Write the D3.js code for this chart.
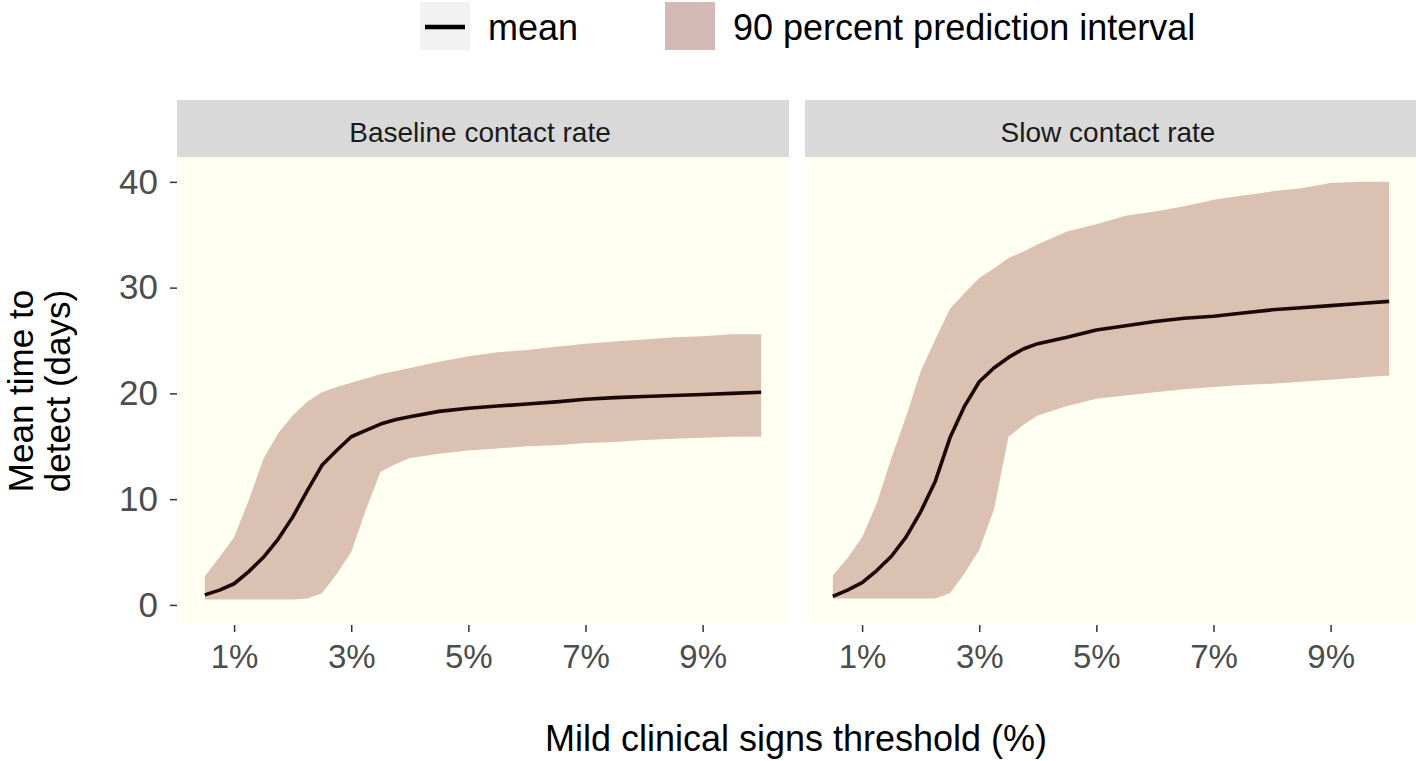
<!DOCTYPE html>
<html>
<head>
<meta charset="utf-8">
<script src="https://cdn.jsdelivr.net/npm/d3@7"></script>
<style>
  body { margin: 0; background: #fff; }
  text { font-family: "Liberation Sans", Arial, sans-serif; }
</style>
</head>
<body>
<div id="chart"></div>
<script>
// threshold values (%)
var thresholds = [0.5, 0.75, 1, 1.25, 1.5, 1.75, 2, 2.25, 2.5, 2.75, 3, 3.25, 3.5, 3.75, 4,
                  4.5, 5, 5.5, 6, 6.5, 7, 7.5, 8, 8.5, 9, 9.5, 10];

var panels = ["Baseline contact rate", "Slow contact rate"];

var baseMean  = [0.95, 1.4, 2.0, 3.15, 4.5, 6.2, 8.3, 10.8, 13.2, 14.6, 15.9, 16.5, 17.1, 17.5, 17.8,
                 18.3, 18.6, 18.8, 19.0, 19.2, 19.45, 19.6, 19.7, 19.8, 19.9, 20.0, 20.1];
var baseUpper = [2.7, 4.5, 6.4, 9.9, 13.8, 16.2, 17.9, 19.2, 20.1, 20.6, 21.0, 21.4, 21.8, 22.1, 22.4,
                 23.0, 23.5, 23.9, 24.1, 24.4, 24.7, 24.9, 25.1, 25.3, 25.4, 25.6, 25.6];
var baseLower = [0.5, 0.5, 0.5, 0.5, 0.5, 0.5, 0.5, 0.6, 1.1, 2.9, 5.0, 9.0, 12.6, 13.3, 13.9,
                 14.3, 14.6, 14.8, 15.0, 15.1, 15.3, 15.4, 15.6, 15.7, 15.8, 15.9, 15.9];

var slowMean  = [0.8, 1.4, 2.1, 3.25, 4.6, 6.4, 8.8, 11.7, 15.8, 18.8, 21.1, 22.4, 23.4, 24.2, 24.7,
                 25.3, 26.0, 26.4, 26.8, 27.1, 27.3, 27.6, 27.9, 28.1, 28.3, 28.5, 28.7];
var slowUpper = [2.8, 4.4, 6.4, 9.6, 13.9, 17.8, 22.1, 25.1, 28.0, 29.5, 30.9, 31.8, 32.8, 33.4, 34.1,
                 35.3, 36.0, 36.8, 37.2, 37.7, 38.3, 38.7, 39.1, 39.4, 39.9, 40.0, 40.0];
var slowLower = [0.6, 0.6, 0.6, 0.6, 0.6, 0.6, 0.6, 0.6, 1.1, 3.0, 5.2, 9.0, 15.9, 17.0, 17.9,
                 18.8, 19.5, 19.8, 20.1, 20.4, 20.6, 20.8, 20.9, 21.1, 21.3, 21.5, 21.7];

var xTicks = [1, 3, 5, 7, 9];
var yTicks = [0, 10, 20, 30, 40];

var width = 1416, height = 761;
var panelTop = 157, panelBottom = 625, stripTop = 100;
var panelX = [[177, 789], [805, 1417]];

var svg = d3.select("#chart").append("svg")
    .attr("width", width)
    .attr("height", height);

var y = d3.scaleLinear().domain([-1.9, 42.35]).range([panelBottom, panelTop]);

var series = [
  {mean: baseMean, upper: baseUpper, lower: baseLower},
  {mean: slowMean, upper: slowUpper, lower: slowLower}
];

panels.forEach(function(name, i) {
    var x = d3.scaleLinear().domain([0.025, 10.475]).range(panelX[i]);
    var rows = thresholds.map(function(t, j) {
        return {t: t, m: series[i].mean[j], lo: series[i].lower[j], hi: series[i].upper[j]};
    });

    var g = svg.append("g");

    g.append("rect")
        .attr("x", panelX[i][0]).attr("y", panelTop)
        .attr("width", panelX[i][1] - panelX[i][0]).attr("height", panelBottom - panelTop)
        .attr("fill", "#fffff2");

    g.append("rect")
        .attr("x", panelX[i][0]).attr("y", stripTop)
        .attr("width", panelX[i][1] - panelX[i][0]).attr("height", panelTop - stripTop)
        .attr("fill", "#d9d9d9");

    g.append("text")
        .attr("x", (panelX[i][0] + panelX[i][1]) / 2 - 3)
        .attr("y", 142)
        .attr("text-anchor", "middle")
        .attr("font-size", 28)
        .attr("fill", "#1a1a1a")
        .text(name);

    g.append("path")
        .datum(rows)
        .attr("fill", "#dbc1b2")
        .attr("d", d3.area()
            .x(function(d) { return x(d.t); })
            .y0(function(d) { return y(d.lo); })
            .y1(function(d) { return y(d.hi); }));

    g.append("path")
        .datum(rows)
        .attr("fill", "none")
        .attr("stroke", "#1b0805")
        .attr("stroke-width", 3.6)
        .attr("stroke-linejoin", "round")
        .attr("d", d3.line()
            .x(function(d) { return x(d.t); })
            .y(function(d) { return y(d.m); }));

    var xAxis = g.append("g")
        .attr("transform", "translate(0," + panelBottom + ")")
        .call(d3.axisBottom(x).tickValues(xTicks).tickSize(7).tickPadding(13)
            .tickFormat(function(d) { return d + "%"; }));
    xAxis.select(".domain").remove();
    xAxis.selectAll("line").attr("stroke", "#333").attr("stroke-width", 1.5);
    xAxis.selectAll("text").attr("font-size", 33).attr("fill", "#4d4d4d")
        .attr("font-family", "Liberation Sans, Arial, sans-serif");
});

var yAxis = svg.append("g")
    .attr("transform", "translate(" + panelX[0][0] + ",0)")
    .call(d3.axisLeft(y).tickValues(yTicks).tickSize(7).tickPadding(12));
yAxis.select(".domain").remove();
yAxis.selectAll("line").attr("stroke", "#333").attr("stroke-width", 1.5);
yAxis.selectAll("text").attr("font-size", 35).attr("fill", "#4d4d4d")
    .attr("font-family", "Liberation Sans, Arial, sans-serif");

// axis titles
svg.append("text")
    .attr("x", 796).attr("y", 751)
    .attr("text-anchor", "middle")
    .attr("font-size", 36)
    .attr("fill", "#000")
    .text("Mild clinical signs threshold (%)");

var yt = svg.append("text")
    .attr("transform", "translate(33,391) rotate(-90)")
    .attr("text-anchor", "middle")
    .attr("font-size", 35)
    .attr("fill", "#000");
yt.append("tspan").attr("x", 0).attr("y", 0).text("Mean time to");
yt.append("tspan").attr("x", 0).attr("y", 37).text("detect (days)");

// legend
var legend = svg.append("g");
legend.append("rect")
    .attr("x", 420).attr("y", 2).attr("width", 50).attr("height", 48)
    .attr("fill", "#f2f2f2");
legend.append("line")
    .attr("x1", 425).attr("x2", 465).attr("y1", 27).attr("y2", 27)
    .attr("stroke", "#000").attr("stroke-width", 4.5);
legend.append("text")
    .attr("x", 488).attr("y", 40)
    .attr("font-size", 36)
    .text("mean");
legend.append("rect")
    .attr("x", 665).attr("y", 2).attr("width", 50).attr("height", 48)
    .attr("fill", "#d4b8b3");
legend.append("text")
    .attr("x", 733).attr("y", 40)
    .attr("font-size", 36)
    .text("90 percent prediction interval");
</script>
</body>
</html>
